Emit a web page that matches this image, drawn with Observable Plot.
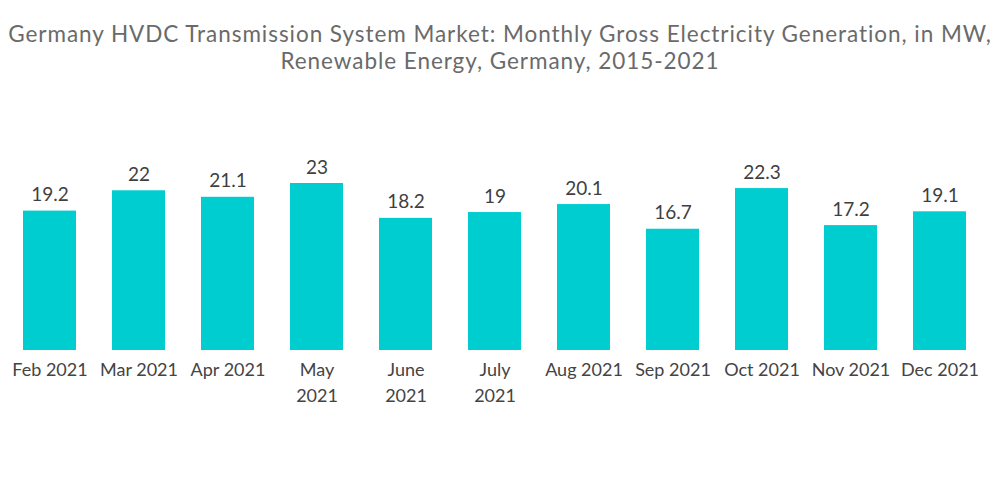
<!DOCTYPE html>
<html>
<head>
<meta charset="utf-8">
<script src="https://cdn.jsdelivr.net/npm/d3@7"></script>
<script src="https://cdn.jsdelivr.net/npm/@observablehq/plot@0.6"></script>
<style>
  html, body { margin: 0; padding: 0; background: #fff; }
  body { width: 1000px; height: 504px; overflow: hidden; font-family: Lato, "Open Sans", sans-serif; }
  #title { height: 100px; box-sizing: border-box; padding-top: 20px; text-align: center; color: #6a6a6a; font-size: 22.5px; line-height: 27px; letter-spacing: 0.95px; white-space: nowrap; }
</style>
</head>
<body>
<div id="title">Germany HVDC Transmission System Market: Monthly Gross Electricity Generation, in MW,<br>Renewable Energy, Germany, 2015-2021</div>
<div id="chart"></div>
<script>
const months = ["Feb 2021", "Mar 2021", "Apr 2021", "May\n2021", "June\n2021", "July\n2021", "Aug 2021", "Sep 2021", "Oct 2021", "Nov 2021", "Dec 2021"];
const values = [19.2, 22, 21.1, 23, 18.2, 19, 20.1, 16.7, 22.3, 17.2, 19.1];
const labels = ["19.2", "22", "21.1", "23", "18.2", "19", "20.1", "16.7", "22.3", "17.2", "19.1"];

const data = months.map((m, i) => ({month: m, value: values[i], label: labels[i]}));

const chart = Plot.plot({
  width: 1000,
  height: 404,
  marginLeft: 4,
  marginRight: 15,
  marginTop: 83,
  marginBottom: 154,
  style: {fontFamily: "Lato, 'Open Sans', sans-serif", background: "#fff"},
  x: {domain: months, paddingInner: 0.4, paddingOuter: 0.2, label: null},
  y: {domain: [0, 23], axis: null},
  marks: [
    Plot.barY(data, {x: "month", y: "value", fill: "#00cdd0"}),
    Plot.text(data, {x: "month", y: "value", text: "label", lineAnchor: "bottom", dy: -10, fontSize: 19, fill: "#3f3f3f"}),
    Plot.axisX({tickSize: 0, tickPadding: 7, fontSize: 18, color: "#444", lineHeight: 1.45, label: null})
  ]
});
document.getElementById("chart").appendChild(chart);
</script>
</body>
</html>
